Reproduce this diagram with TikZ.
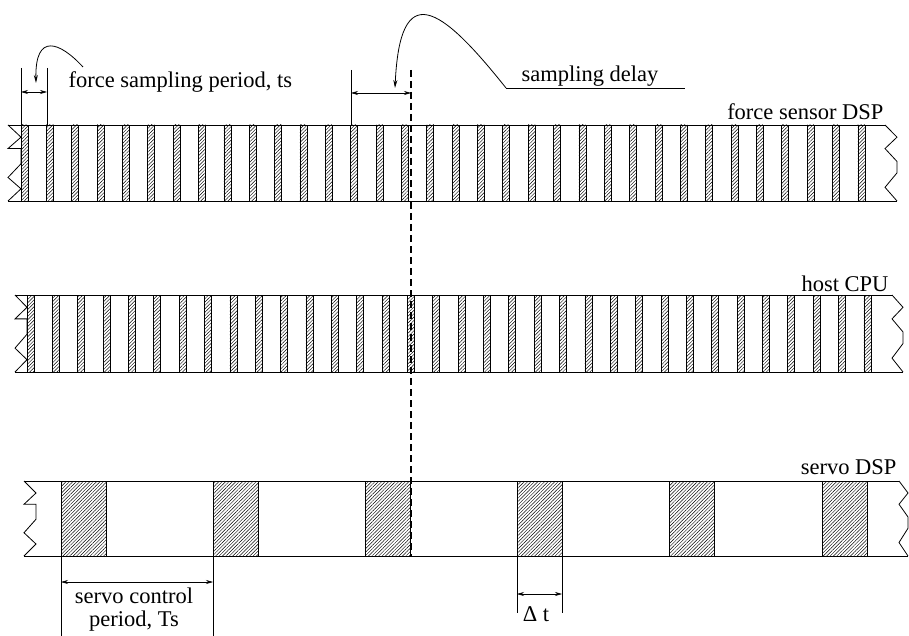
\documentclass[tikz,border=0pt]{standalone}
\usepackage{fontspec}
\setmainfont{Liberation Serif}
\usetikzlibrary{arrows.meta, patterns.meta}

% broken ends of a time band: x, top y, height, depth
\newcommand{\cutleft}[4]{%
  \draw[band] (#1,#2) -- ++(#4,{.16*#3}) -- ++(-#4,{.15*#3}) -- ++(#4,0)
    -- ++(0,{.2*#3}) -- ++(-#4,{.18*#3}) -- ++(#4,{.15*#3}) -- ++(-#4,{.16*#3});}
\newcommand{\cutright}[4]{%
  \draw[band] (#1,#2) -- ++(#4,{.16*#3}) -- ++(-#4,{.15*#3}) -- ++(#4,{.17*#3})
    -- ++(0,{.15*#3}) -- ++(-#4,{.19*#3}) -- ++(#4,{.18*#3});}

\begin{document}
\begin{tikzpicture}[x=1pt, y=-1pt, font=\fontsize{22.5}{24}\selectfont,
  band/.style={line width=0.8pt},
  slot/.style={draw, line width=0.7pt,
               pattern={Lines[angle=45, distance=2.4pt, line width=0.45pt]}},
  ext/.style={line width=0.6pt},
  dim/.style={{Stealth[length=7pt,width=4pt]}-{Stealth[length=7pt,width=4pt]}, line width=0.6pt},
  lead/.style={-{Stealth[length=8pt,width=4pt]}, line width=0.8pt}
]
\useasboundingbox (0,0) rectangle (909,636);

% force sensor DSP
\draw[band] (8,125) -- (885,125);
\draw[band] (8,201) -- (897,201);
\cutleft{8}{125}{76}{13}
\cutright{885}{125}{76}{12}
\foreach \k in {0,...,33} \draw[slot] ({21+25.36*\k},125) rectangle ++(7,76);
\node[anchor=base east] (fdsp) at (887,120) {force sensor DSP};

% host CPU
\draw[band] (15,295) -- (892,295);
\draw[band] (15,372) -- (903,372);
\cutleft{15}{295}{77}{12}
\cutright{892}{295}{77}{11}
\foreach \k in {0,...,33} \draw[slot] ({27+25.36*\k},295) rectangle ++(7,77);
\node[anchor=base east] (host) at (892,291) {host CPU};

% servo DSP
\draw[band] (24,481) -- (899,481);
\draw[band] (24,556) -- (908,556);
\cutleft{24}{481}{75}{12}
\cutright{899}{481}{75}{9}
\foreach \k in {0,...,5} \draw[slot] ({61+152.2*\k},481) rectangle ++(45,75);
\node[anchor=base east] (sdsp) at (900,474) {servo DSP};

% force sampling period
\coordinate (tsa) at (21,92);
\coordinate (tsb) at (47,92);
\draw[ext] (21,68) -- (21,125);
\draw[ext] (47,68) -- (47,125);
\draw[dim] (tsa) -- (tsb);
\node[anchor=base west] (tslab) at (65,88) {force sampling period, ts};
\coordinate (tsc) at (83,67);
\coordinate (tst) at (36,83);
\draw[lead] (tsc) .. controls (60,42) and (35,32) .. (tst);

% sampling delay
\draw[line width=1.2pt, dash pattern=on 7pt off 4pt] (411,70) -- (411,557);
\coordinate (sda) at (351,93);
\coordinate (sdb) at (411,93);
\draw[ext] (351,70) -- (351,125);
\draw[dim] (sda) -- (sdb);
\node[anchor=base west] (sdlab) at (518,82) {sampling delay};
\coordinate (sdu) at (506,88);
\coordinate (sdv) at (685,88);
\draw[ext] (sdu) -- (sdv);
\coordinate (sdt) at (395,88);
\draw[lead] (sdu) .. controls (440,5) and (400,-22) .. (sdt);

% servo control period
\coordinate (tca) at (61,582);
\coordinate (tcb) at (213,582);
\draw[ext] (61,556) -- (61,636);
\draw[ext] (213,556) -- (213,636);
\draw[dim] (tca) -- (tcb);
\node[anchor=north, align=center, inner sep=0pt, font=\fontsize{22.5}{23}\selectfont]
  (tclab) at (134,588) {servo control\\period, Ts};

% servo computing time
\coordinate (dta) at (517,594);
\coordinate (dtb) at (562,594);
\draw[ext] (517,556) -- (517,613);
\draw[ext] (562,556) -- (562,613);
\draw[dim] (dta) -- (dtb);
\node[anchor=base] (dtlab) at (536,621) {Δ t};
\end{tikzpicture}
\end{document}
